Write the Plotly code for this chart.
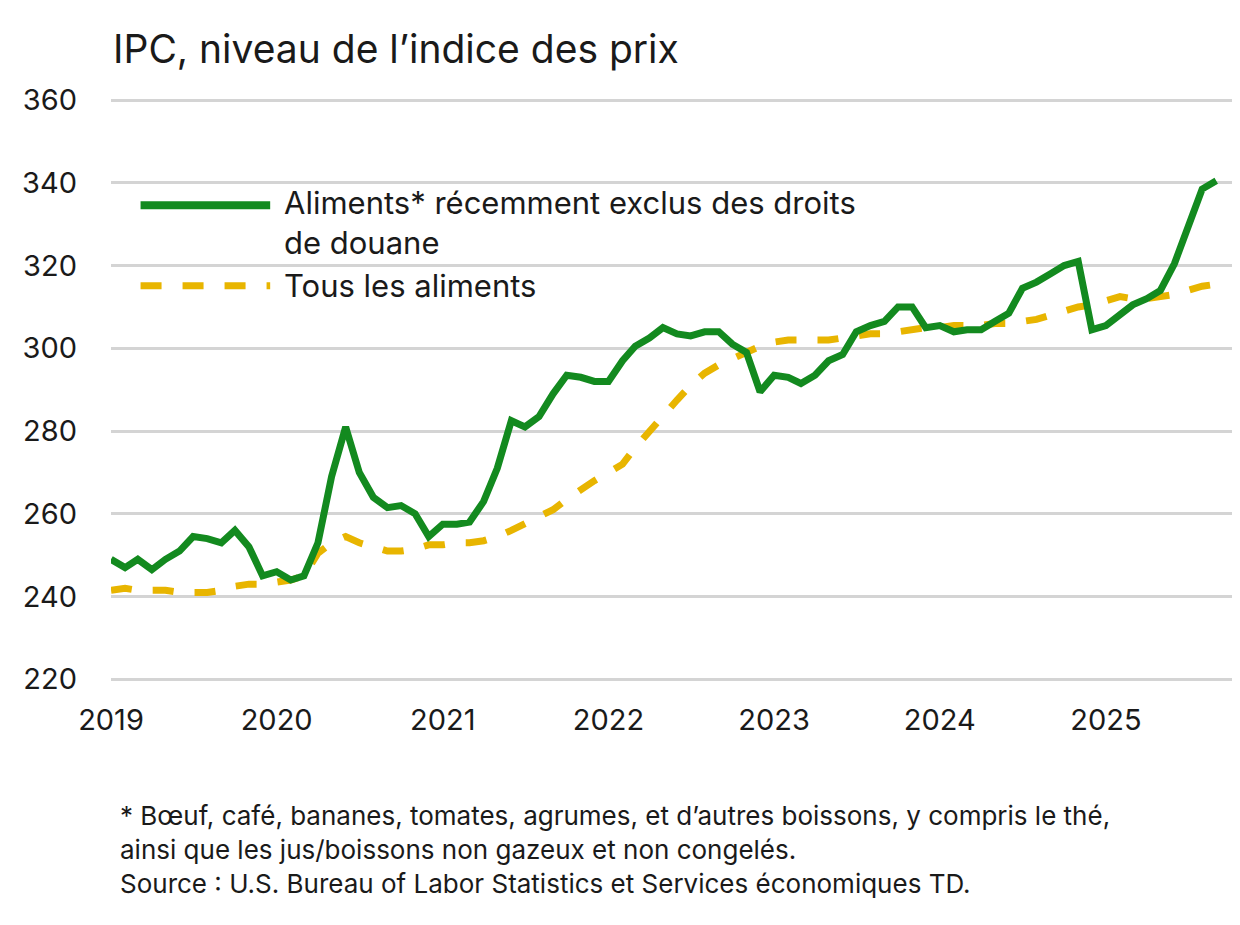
import plotly.graph_objects as go
import pandas as pd

dates = pd.date_range("2019-01-01", "2025-09-01", freq="MS")
tariff_foods = [
 249,247,249,246.5,249,251,254.5,254,253,256,252,245,
 246,244,245,253,269,281,270,264,261.5,262,260,254.5,
 257.5,257.5,258,263,271,282.5,281,283.5,289,293.5,293,292,
 292,297,300.5,302.5,305,303.5,303,304,304,301,299,289.5,
 293.5,293,291.5,293.5,297,298.5,304,305.5,306.5,310,310,305,
 305.5,304,304.5,304.5,306.5,308.5,314.5,316,318,320,321,304.5,
 305.5,308,310.5,312,314,320.5,329,338.5,340.5]
all_foods = [
 241.5,242,241.5,241.5,241.5,241,241,241,241.5,242.5,243,243,
 243.5,244,245,250.5,253,254.5,253,252,251,251,251.5,252.5,
 252.5,253,253,253.5,254.5,256,257.5,259,261,263.5,266,268,
 270,272,276,280,283.5,287.5,291,294,296,297.5,299,300.5,
 301.5,302,302,302,302,302.5,303,303.5,303.5,304,304.5,305,
 305,305.5,305.5,305.5,306,306,306.5,307,308,309,310,310.5,
 311.5,312.5,312,312,312.5,313,314,315,315.5]
year_ticks = [f"{y}-01-01" for y in range(2019, 2026)]
year_labels = [str(y) for y in range(2019, 2026)]
green, gold = "#138a1f", "#e8b500"
font = "Inter, Roboto, sans-serif"

fig = go.Figure()
fig.add_trace(go.Scatter(x=dates, y=all_foods, mode="lines",
    line=dict(color=gold, width=7, dash="dash"), hoverinfo="skip"))
fig.add_trace(go.Scatter(x=dates, y=tariff_foods, mode="lines",
    line=dict(color=green, width=7), hoverinfo="skip"))

fig.update_layout(
    width=1240, height=925, showlegend=False,
    paper_bgcolor="white", plot_bgcolor="white",
    margin=dict(l=103, r=0, t=90, b=233),
    font=dict(family=font, size=29, color="#1a1a1a"),
    xaxis=dict(range=["2019-01-01", "2025-11-10"], tickvals=year_ticks,
               ticktext=year_labels, showgrid=False, zeroline=False,
               ticks="", showline=False, tickfont=dict(size=29)),
    yaxis=dict(range=[215, 360.5], tickvals=list(range(220, 361, 20)),
               showgrid=True, gridcolor="#d4d4d4", gridwidth=2.5,
               zeroline=False, ticks="", ticklabelstandoff=33,
               tickfont=dict(size=29)),
)
fig.add_annotation(xref="paper", yref="paper", x=0, y=1.083, xanchor="left",
    yanchor="middle", showarrow=False, text="IPC, niveau de l’indice des prix",
    font=dict(size=39))
# legend
fig.add_shape(type="line", xref="paper", yref="paper", x0=0.026, x1=0.14,
    y0=0.822, y1=0.822, line=dict(color=green, width=8))
fig.add_shape(type="line", xref="paper", yref="paper", x0=0.026, x1=0.14,
    y0=0.688, y1=0.688, line=dict(color=gold, width=7, dash="dash"))
fig.add_annotation(xref="paper", yref="paper", x=0.150, y=0.86, xanchor="left",
    yanchor="top", align="left", showarrow=False,
    text="Aliments* récemment exclus des droits<br>de douane", font=dict(size=31))
fig.add_annotation(xref="paper", yref="paper", x=0.150, y=0.688, xanchor="left",
    yanchor="middle", showarrow=False, text="Tous les aliments", font=dict(size=31))
fig.add_annotation(xref="paper", yref="paper", x=0.006, y=-0.163, xanchor="left",
    yanchor="top", align="left", showarrow=False,
    text="* Bœuf, café, bananes, tomates, agrumes, et d’autres boissons, y compris le thé,<br>"
         "ainsi que les jus/boissons non gazeux et non congelés.<br>"
         "Source : U.S. Bureau of Labor Statistics et Services économiques TD.",
    font=dict(size=26))
fig.write_html("out.html")
